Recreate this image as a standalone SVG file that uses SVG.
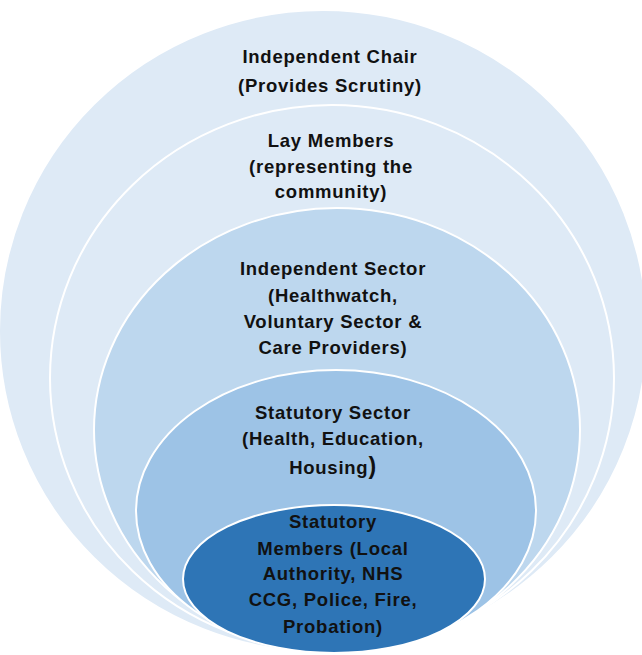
<svg xmlns="http://www.w3.org/2000/svg" width="642" height="655" viewBox="0 0 642 655">
<style>
.ring{stroke:#ffffff;stroke-width:2}
.t{font-family:"Liberation Sans","Noto Sans",Arial,sans-serif;font-weight:bold;font-size:18.5px;letter-spacing:0.75px;fill:#111111;text-anchor:middle}
</style>
<rect width="642" height="655" fill="#ffffff"/>
<g id="chair">
<ellipse class="ring" cx="323" cy="331" rx="324" ry="321" fill="#deeaf6"/>
<text class="t" x="330" y="63">Independent Chair</text>
<text class="t" x="330" y="92">(Provides Scrutiny)</text>
</g>
<g id="lay">
<ellipse class="ring" cx="332" cy="378" rx="282" ry="273" fill="#deeaf6"/>
<text class="t" x="331" y="147">Lay Members</text>
<text class="t" x="331" y="173">(representing the</text>
<text class="t" x="331" y="198">community)</text>
</g>
<g id="independent">
<ellipse class="ring" cx="337" cy="430" rx="243" ry="222" fill="#bdd7ee"/>
<text class="t" x="333" y="275">Independent Sector</text>
<text class="t" x="333" y="302">(Healthwatch,</text>
<text class="t" x="333" y="328">Voluntary Sector &amp;</text>
<text class="t" x="333" y="354">Care Providers)</text>
</g>
<g id="statutory-sector">
<ellipse class="ring" cx="336" cy="511" rx="200" ry="141" fill="#9dc3e6"/>
<text class="t" x="333" y="419">Statutory Sector</text>
<text class="t" x="333" y="445">(Health, Education,</text>
<text class="t" x="333" y="474">Housing<tspan font-size="23">)</tspan></text>
</g>
<g id="statutory-members">
<ellipse class="ring" cx="334" cy="579" rx="151" ry="74" fill="#2e75b6"/>
<text class="t" x="333" y="528">Statutory</text>
<text class="t" x="333" y="555">Members (Local</text>
<text class="t" x="333" y="580">Authority, NHS</text>
<text class="t" x="333" y="606">CCG, Police, Fire,</text>
<text class="t" x="333" y="633">Probation)</text>
</g>
<g id="connectors"></g>
</svg>
